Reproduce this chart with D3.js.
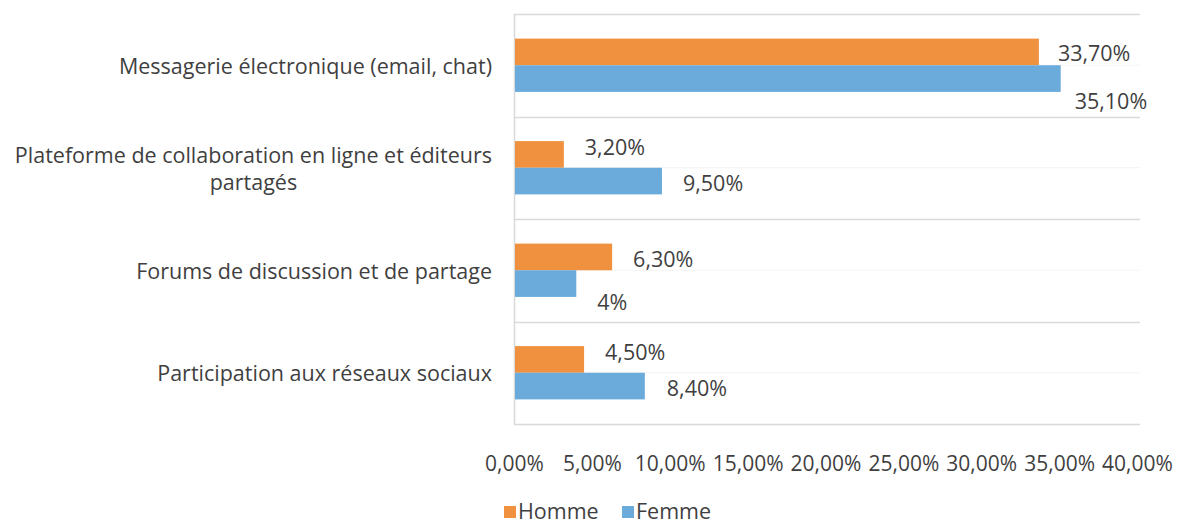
<!DOCTYPE html>
<html>
<head>
<meta charset="utf-8">
<script src="https://cdn.jsdelivr.net/npm/d3@7"></script>
<style>
  body { margin: 0; background: #fff; }
  text { font-family: "Open Sans", sans-serif; fill: #3f3f3f; }
</style>
</head>
<body>
<div id="chart"></div>
<script>
// data
const categories = [
  "Messagerie électronique (email, chat)",
  "Plateforme de collaboration en ligne et éditeurs partagés",
  "Forums de discussion et de partage",
  "Participation aux réseaux sociaux"
];
const categoryLines = [
  ["Messagerie électronique (email, chat)"],
  ["Plateforme de collaboration en ligne et éditeurs", "partagés"],
  ["Forums de discussion et de partage"],
  ["Participation aux réseaux sociaux"]
];
const series = ["Homme", "Femme"];
const homme = [33.7, 3.2, 6.3, 4.5];
const femme = [35.1, 9.5, 4.0, 8.4];
const valueLabels = {
  Homme: ["33,70%", "3,20%", "6,30%", "4,50%"],
  Femme: ["35,10%", "9,50%", "4%", "8,40%"]
};
const xTicks = [0, 5, 10, 15, 20, 25, 30, 35, 40];
const colors = {Homme: "#F0913F", Femme: "#6AABDB"};

// label nudges (Excel placed them a bit unevenly)
const labelDy = {Homme: [2, -7, 3, -7], Femme: [23, 2, 19, 2]};
const labelDx = {Homme: [19, 21, 21, 21], Femme: [14, 21, 21, 22]};

const width = 1177, height = 526;
const margin = {top: 14, right: 37, bottom: 102, left: 514};
const fontSize = "21.5px";

const svg = d3.select("#chart")
  .append("svg")
    .attr("width", width)
    .attr("height", height);

const x = d3.scaleLinear()
  .domain([0, 40])
  .range([margin.left, width - margin.right - 3]);

const y = d3.scaleBand()
  .domain(categories)
  .range([margin.top, height - margin.bottom])
  .paddingInner(0.48)
  .paddingOuter(0.24);

const ySub = d3.scaleBand()
  .domain(series)
  .range([0, y.bandwidth()]);

const step = y.step();
const gridRight = 1140;

// horizontal gridlines between the categories
const grid = svg.append("g");
grid.selectAll("line.sep")
  .data(d3.range(categories.length + 1))
  .join("line")
    .attr("class", "sep")
    .attr("x1", margin.left)
    .attr("x2", gridRight)
    .attr("y1", i => Math.round(margin.top + i * step) + 0.5)
    .attr("y2", i => Math.round(margin.top + i * step) + 0.5)
    .attr("stroke", "#d9d9d9")
    .attr("stroke-width", 1.5);

// faint lines in the middle of each band
grid.selectAll("line.mid")
  .data(categories)
  .join("line")
    .attr("class", "mid")
    .attr("x1", margin.left)
    .attr("x2", gridRight)
    .attr("y1", d => y(d) + y.bandwidth() / 2)
    .attr("y2", d => y(d) + y.bandwidth() / 2)
    .attr("stroke", "#f3f3f3")
    .attr("stroke-width", 1);

// vertical axis line
svg.append("line")
  .attr("x1", margin.left + 0.5)
  .attr("x2", margin.left + 0.5)
  .attr("y1", margin.top)
  .attr("y2", margin.top + categories.length * step)
  .attr("stroke", "#d9d9d9")
  .attr("stroke-width", 1.5);

// bars
const rows = categories.map((c, i) => ({cat: c, i: i, Homme: homme[i], Femme: femme[i]}));

const groups = svg.append("g")
  .selectAll("g")
  .data(rows)
  .join("g")
    .attr("transform", d => `translate(0,${y(d.cat)})`);

groups.selectAll("rect")
  .data(d => series.map(s => ({key: s, value: d[s], i: d.i})))
  .join("rect")
    .attr("x", x(0) + 1)
    .attr("y", d => ySub(d.key))
    .attr("width", d => x(d.value) - x(0) - 1)
    .attr("height", ySub.bandwidth())
    .attr("fill", d => colors[d.key]);

groups.selectAll("text")
  .data(d => series.map(s => ({key: s, value: d[s], i: d.i})))
  .join("text")
    .attr("x", d => x(d.value) + labelDx[d.key][d.i])
    .attr("y", d => ySub(d.key) + ySub.bandwidth() / 2 + labelDy[d.key][d.i])
    .attr("dy", "0.35em")
    .style("font-size", fontSize)
    .text(d => valueLabels[d.key][d.i]);

// category labels
const catLabels = svg.append("g")
  .selectAll("text")
  .data(categories)
  .join("text")
    .attr("text-anchor", "middle")
    .style("font-size", fontSize);

catLabels.each(function(d, i) {
  const lines = categoryLines[i];
  const t = d3.select(this);
  const cy = y(d) + y.bandwidth() / 2 + 1;
  const lh = 27;
  lines.forEach((ln, k) => {
    t.append("tspan")
      .attr("x", 0)
      .attr("y", cy + (k - (lines.length - 1) / 2) * lh)
      .attr("dy", "0.35em")
      .text(ln);
  });
});
// right-align block, centre the lines inside it
catLabels.each(function() {
  const bb = this.getBBox();
  d3.select(this).attr("transform", `translate(${492 - bb.x - bb.width},0)`);
});

// x axis labels
svg.append("g")
  .attr("transform", `translate(0,${height - margin.bottom + 29})`)
  .call(d3.axisBottom(x)
    .tickValues(xTicks)
    .tickSize(0)
    .tickFormat(d => d3.format(".2f")(d).replace(".", ",") + "%"))
  .call(g => g.select(".domain").remove())
  .call(g => g.selectAll("text")
    .style("font-size", "21px")
    .style("fill", "#3f3f3f")
    .style("font-family", "'Open Sans', sans-serif"));

// legend
const legend = svg.append("g")
  .attr("transform", `translate(504,${height - 7})`);
const legX = [0, 118];
series.forEach((s, i) => {
  legend.append("rect")
    .attr("x", legX[i])
    .attr("y", -13)
    .attr("width", 12)
    .attr("height", 12)
    .attr("fill", colors[s]);
  legend.append("text")
    .attr("x", legX[i] + 14)
    .attr("y", 0)
    .style("font-size", fontSize)
    .text(s);
});
</script>
</body>
</html>
